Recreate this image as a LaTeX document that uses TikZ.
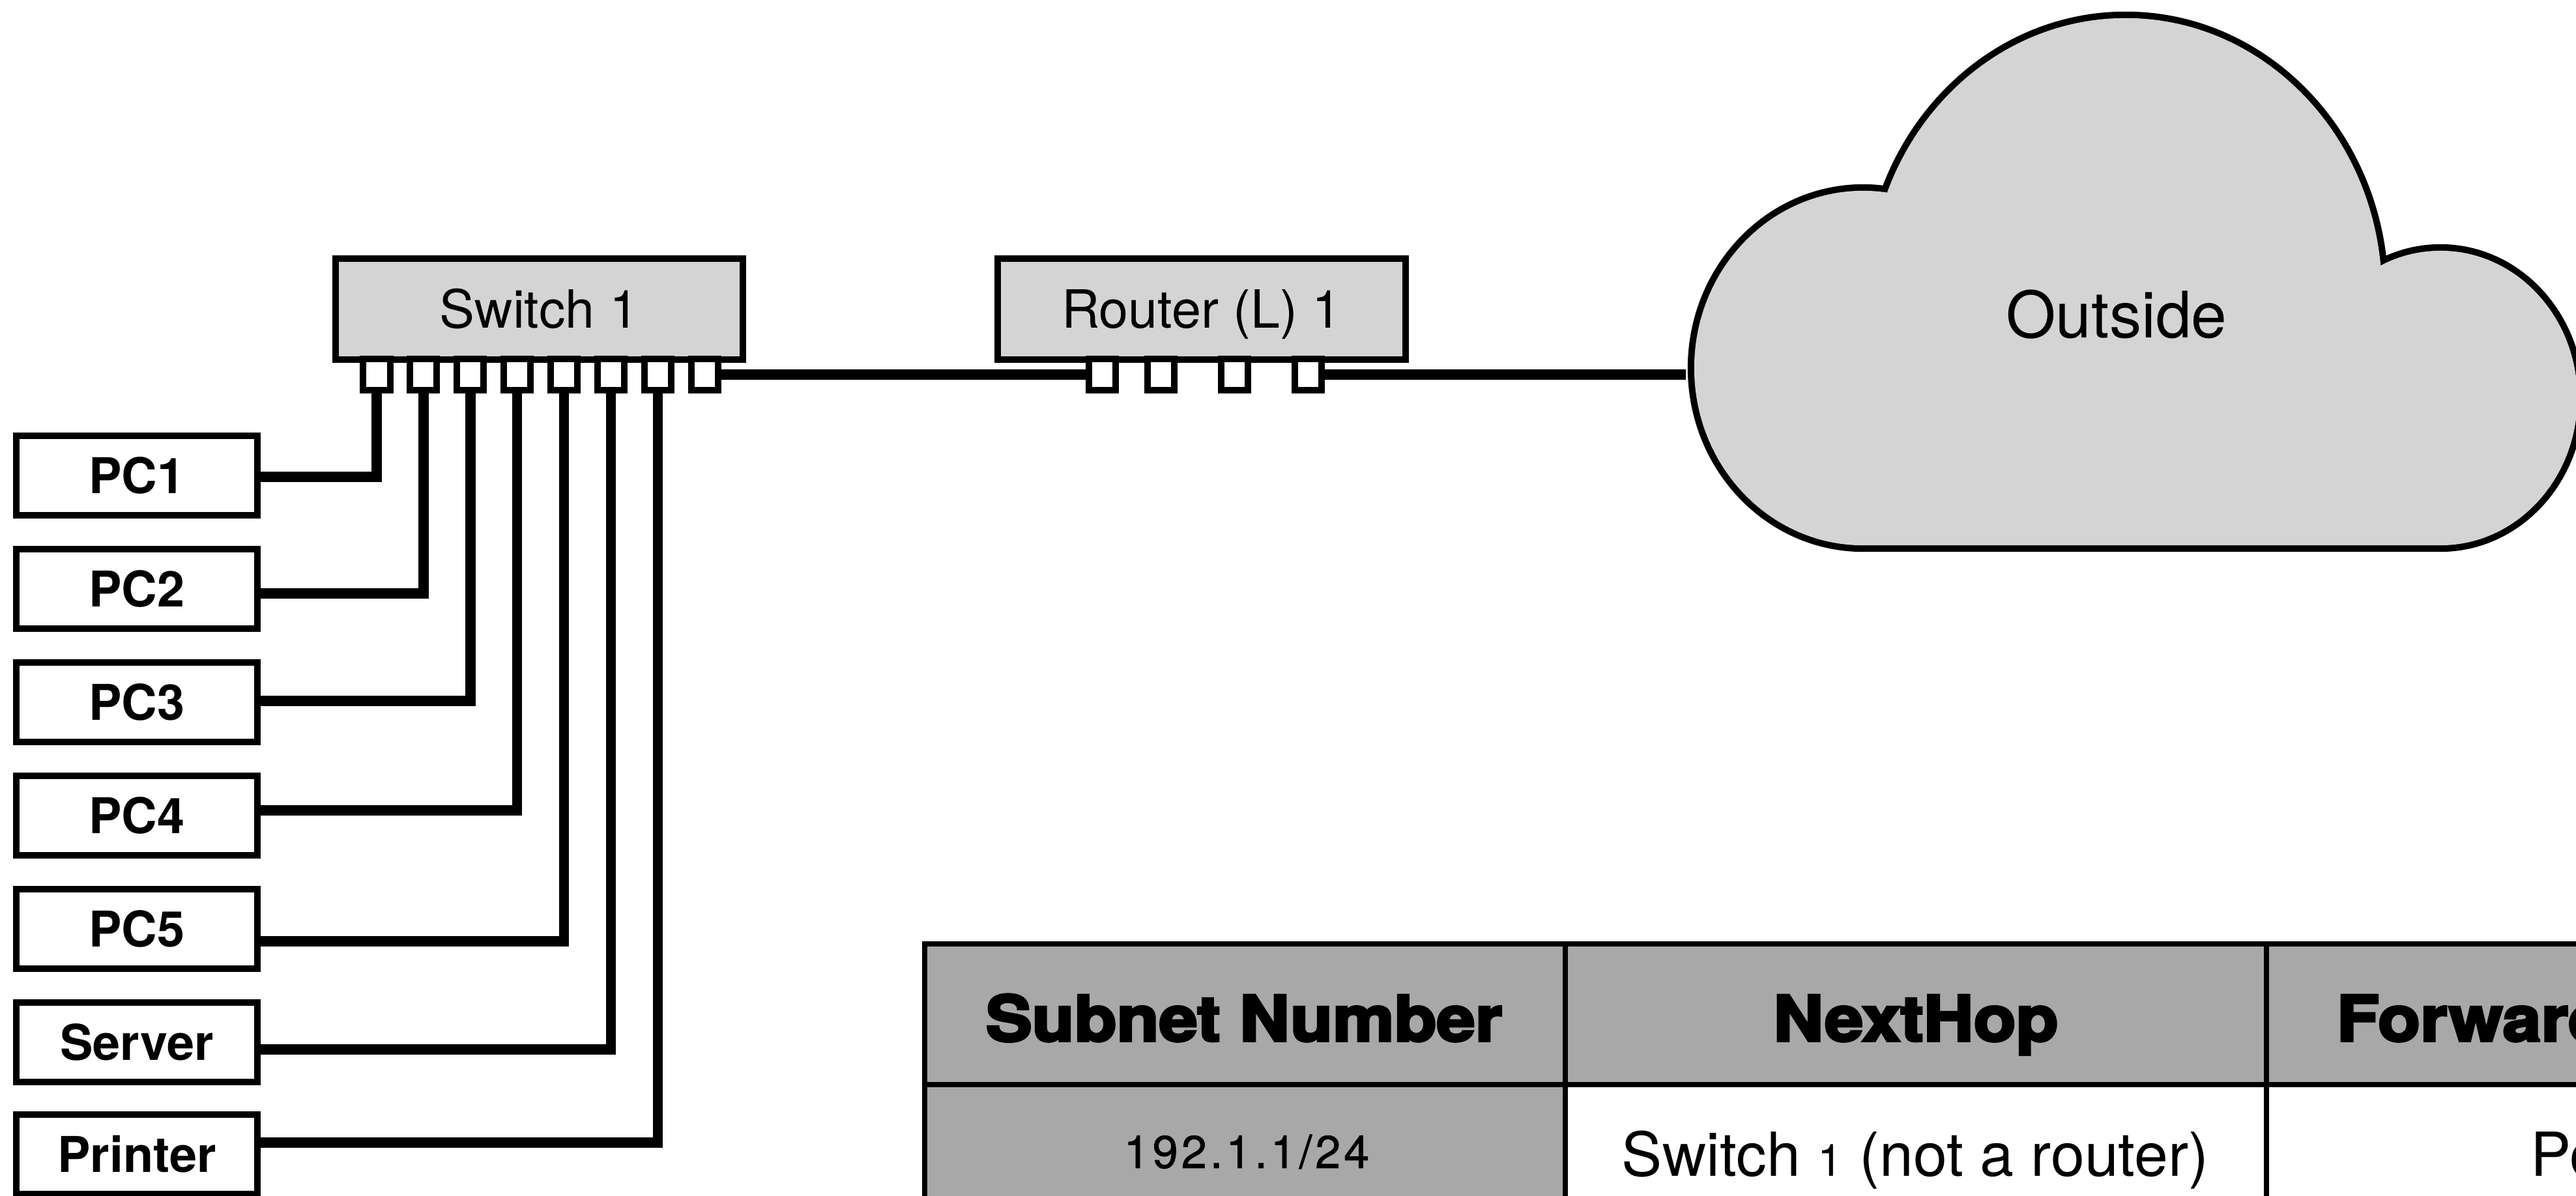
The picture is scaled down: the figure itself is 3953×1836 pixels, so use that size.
\documentclass[tikz,border=0pt]{standalone}
\usepackage{fontspec}
\setmainfont{TeX Gyre Heros}
\newfontfamily\heavyfont{texgyreheros-bold}[Extension=.otf, FakeBold=4, FakeStretch=1.1]
\newfontfamily\ipfont{TeX Gyre Heros}[LetterSpace=7, FakeBold=1]
\usetikzlibrary{calc}
\definecolor{boxgray}{HTML}{D4D4D4}
\definecolor{cellgray}{HTML}{A8A8A8}

\tikzset{
  device/.style={draw, fill=boxgray, line width=0.1cm, minimum width=6.25cm,
    minimum height=1.54cm, inner sep=0pt,
    font=\fontsize{23pt}{23pt}\selectfont, text height=16.4pt, text depth=0pt},
  portbox/.style={draw, fill=white, line width=0.1cm, minimum width=0.41cm,
    minimum height=0.48cm, inner sep=0pt},
  host/.style={draw, fill=white, line width=0.1cm, minimum width=3.70cm,
    minimum height=1.22cm, inner sep=0pt,
    font=\bfseries\fontsize{21.5pt}{21.5pt}\selectfont, text height=15.5pt, text depth=0pt},
  wire/.style={line width=0.155cm},
  tablerule/.style={line width=0.08cm},
  headtext/.style={inner sep=0pt, font=\heavyfont\fontsize{27.5pt}{27.5pt}\selectfont},
  celltext/.style={inner sep=0pt, font=\fontsize{26.5pt}{26.5pt}\selectfont},
  iptext/.style={inner sep=0pt, font=\ipfont\fontsize{20pt}{20pt}\selectfont},
}

\begin{document}
\begin{tikzpicture}[x=0.01cm, y=-0.01cm]
  \path[use as bounding box] (0,0) rectangle (3953,1836);
  \clip (0,0) rectangle (3953,1836);

  % ---- cloud: wide outer stroke first, then the fill covers inner seams
  \draw[line width=0.2cm]
    (2859,565) ellipse [x radius=2.59cm, y radius=2.72cm]
    (3745,611) ellipse [x radius=2.10cm, y radius=2.26cm]
    (2859,450) rectangle (3745,837);
  \begin{scope}
    \clip (2500,0) rectangle (4000,820);
    \draw[line width=0.2cm] (3262,450) ellipse [x radius=3.93cm, y radius=4.22cm];
  \end{scope}
  \fill[boxgray]
    (2859,565) ellipse [x radius=2.59cm, y radius=2.72cm]
    (3745,611) ellipse [x radius=2.10cm, y radius=2.26cm]
    (2859,450) rectangle (3745,837);
  \begin{scope}
    \clip (2500,0) rectangle (4000,820);
    \fill[boxgray] (3262,450) ellipse [x radius=3.93cm, y radius=4.22cm];
  \end{scope}
  \node[anchor=base, inner sep=0pt, font=\fontsize{28pt}{28pt}\selectfont]
    (outside) at (3248,518) {Outside};
  \coordinate (cloudwest) at (2587,575);

  % ---- switch with eight ports
  \node[device] (switch) at (827.5,474.5) {Switch 1};
  \foreach \i in {1,...,8}
    \node[portbox] (sp\i) at ({578+71.9*(\i-1)},575) {};

  % ---- router with four ports
  \node[device] (router) at (1844,474.5) {Router (L) 1};
  \foreach \i/\x in {1/1691, 2/1781, 3/1894, 4/2007}
    \node[portbox] (rp\i) at (\x,575) {};

  % ---- hosts
  \foreach \i/\t/\y in {1/PC1/730, 2/PC2/904, 3/PC3/1078, 4/PC4/1252,
                        5/PC5/1426, 6/Server/1600, 7/Printer/1772}
    \node[host] (h\i) at (210,\y) {\t};

  % ---- links
  \foreach \i/\d in {1/2, 2/7, 3/-2, 4/-8, 5/19, 6/11, 7/-18}
    \draw[wire] ($(h\i.east)+(0,\d)$) -| (sp\i.south);
  \draw[wire] (sp8.east) -- (rp1.west);
  \draw[wire] (rp4.east) -- (cloudwest);

  % ---- routing table
  \fill[cellgray] (1419,1449) rectangle (3990,1665);
  \fill[cellgray] (1419,1665) rectangle (2402,1880);
  \draw[tablerule] (3990,1449) -- (1419,1449) -- (1419,1880);
  \draw[tablerule] (1419,1665) -- (3990,1665);
  \draw[tablerule] (2402,1449) -- (2402,1880);
  \draw[tablerule] (3478,1449) -- (3478,1880);

  \node[headtext, anchor=base] (th1) at (1909,1598) {Subnet Number};
  \node[headtext, anchor=base] (th2) at (2940,1598) {NextHop};
  \node[headtext, anchor=base west] (th3) at (3585,1598) {Forwarding};

  \node[iptext, anchor=base] (td1) at (1913,1793) {192.1.1/24};
  \node[celltext, anchor=base] (td2) at (2939,1805)
    {Switch {\fontsize{19.5pt}{19.5pt}\selectfont 1} (not a router)};
  \node[celltext, anchor=base west] (td3) at (3883,1805) {Port};
\end{tikzpicture}
\end{document}
